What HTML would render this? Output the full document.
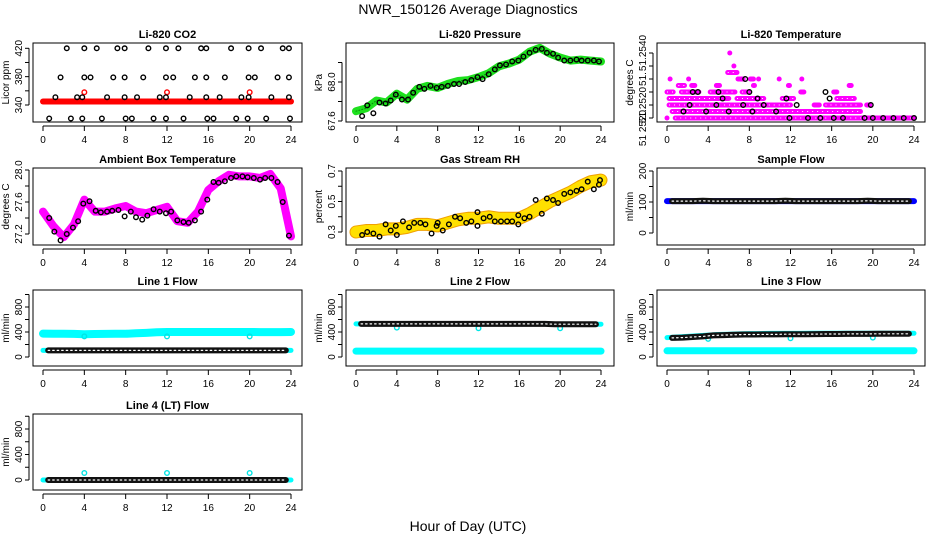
<!DOCTYPE html>
<html><head><meta charset="utf-8">
<style>
html,body{margin:0;padding:0;background:#fff;}
svg{display:block;font-family:"Liberation Sans",sans-serif;}
</style></head>
<body>
<svg id="c" width="936" height="540" viewBox="0 0 936 540" xmlns="http://www.w3.org/2000/svg">
<text x="468" y="14" text-anchor="middle" font-size="14">NWR_150126  Average Diagnostics</text>
<text x="468" y="531" text-anchor="middle" font-size="14">Hour of Day (UTC)</text>
</svg>
<script>
// ---- data ----
const xTicks = [0,4,8,12,16,20,24];
const hours = [0,1,2,3,4,5,6,7,8,9,10,11,12,13,14,15,16,17,18,19,20,21,22,23,24];

// CO2
const co2Red = [345,345,345,345,345,345,345,345,345,345,345,345,345,345,345,345,345,345,345,345,345,345,345,345,345];
const co2RedOutH = [4,12,20];
const co2RedOutV = [358,358,358];
const co2BlackH = [2.3,4.0,5.2,7.2,7.9,10.2,11.9,13.1,15.3,15.8,18.2,19.9,21.1,23.2,23.8,
  1.7,4.0,4.6,6.8,7.9,9.7,11.9,12.6,14.7,15.8,17.6,19.9,20.5,22.7,23.8,
  1.2,3.3,3.8,6.2,7.9,9.1,11.3,11.9,14.2,15.8,17.1,19.2,19.9,22.1,23.8,
  0.6,2.7,3.8,5.7,8.0,8.6,10.7,11.9,13.6,15.9,16.5,18.7,19.8,21.6,23.9];
const co2BlackV = [420,420,420,420,420,420,420,420,420,420,420,420,420,420,420,
  379,379,379,379,379,379,379,379,379,379,379,379,379,379,379,
  351,351,351,351,351,351,351,351,351,351,351,351,351,351,351,
  321,321,321,321,321,321,321,321,321,321,321,321,321,321,321];

// Pressure
const presGreen = [67.70,67.73,67.81,67.79,67.88,67.82,67.93,67.96,67.94,67.98,68.01,68.02,68.05,68.09,68.16,68.19,68.23,68.31,68.35,68.29,68.25,68.22,68.23,68.22,68.21];
const presBlackH = [0.6,1.1,1.7,2.3,2.9,3.4,3.9,4.5,5.1,5.6,6.2,6.7,7.3,7.9,8.4,9.0,9.6,10.1,10.7,11.3,11.9,12.4,13.0,13.6,14.1,14.7,15.3,15.9,16.4,17.0,17.6,18.2,18.7,19.3,19.8,20.4,21.0,21.6,22.1,22.7,23.3,23.8];
const presBlackV = [67.65,67.76,67.68,67.79,67.78,67.81,67.87,67.82,67.82,67.89,67.95,67.93,67.96,67.94,67.95,67.96,67.98,67.98,68.00,68.02,68.05,68.03,68.08,68.13,68.17,68.18,68.21,68.22,68.26,68.30,68.33,68.34,68.30,68.29,68.25,68.22,68.22,68.23,68.22,68.22,68.22,68.21];

// Li-820 temperature (level index)
const tempSegStart = [0.8,0.5,0.2,9.4,15.4,0.2,6.8,11.2,16.5,0.0,1.4,2.6,4.2,5.3,7.3,13.0,16.2,1.1,2.4,4.8,8.4,11.8,17.7,0.3,2.1,6.9,8.1,8.9,10.9,13.1,5.9,6.5,6.1,0.0,14.3,19.4];
const tempSegEnd   = [24.0,18.8,9.1,12.0,18.8,6.0,9.4,12.3,18.2,0.6,2.2,3.1,5.5,6.6,7.9,13.3,16.5,1.7,2.7,5.1,8.5,11.9,17.9,0.3,2.1,7.4,8.4,8.9,10.9,13.1,6.8,6.5,6.1,0.0,14.8,19.7];
const tempSegLevel = [0,1,2,2,2,3,3,3,3,4,4,4,4,4,4,4,4,5,5,5,5,5,5,6,6,6,6,6,6,6,7,8,10,0,2,2];
const tempBlackH = [1.6,2.2,3.8,4.8,6.0,7.4,8.3,9.4,10.6,11.9,13.7,14.9,16.2,17.1,19.2,20.0,21.0,22.0,23.0,24.0,3.0,5.4,8.8,12.6,15.8,19.8,2.5,5.0,8.0,11.6,15.4,7.6];
const tempBlackV = [1,2,1,2,1,2,1,2,1,0,0,0,0,0,0,0,0,0,0,0,4,3,3,2,3,2,4,4,4,3,4,6];

// Ambient box temperature
const ambBand = [27.48,27.30,27.16,27.32,27.63,27.48,27.48,27.52,27.55,27.48,27.46,27.50,27.54,27.36,27.34,27.48,27.75,27.86,27.94,27.92,27.92,27.90,27.95,27.77,27.17];
const ambBlackH = [0.6,1.1,1.7,2.3,2.9,3.4,3.9,4.5,5.1,5.6,6.2,6.7,7.3,7.9,8.5,9.0,9.6,10.1,10.7,11.3,11.9,12.4,13.0,13.6,14.1,14.7,15.3,15.9,16.5,17.0,17.6,18.2,18.7,19.3,19.8,20.4,21.0,21.5,22.1,22.7,23.2,23.8];
const ambBlackV = [27.40,27.23,27.12,27.20,27.28,27.36,27.58,27.61,27.49,27.47,27.48,27.49,27.50,27.42,27.48,27.41,27.38,27.43,27.51,27.48,27.46,27.48,27.37,27.35,27.34,27.37,27.48,27.63,27.85,27.84,27.86,27.90,27.92,27.92,27.91,27.90,27.88,27.90,27.90,27.85,27.60,27.18];

// Gas stream RH
const rhBand = [0.30,0.31,0.31,0.32,0.32,0.33,0.35,0.35,0.34,0.36,0.38,0.39,0.39,0.40,0.39,0.39,0.39,0.42,0.46,0.50,0.53,0.56,0.60,0.63,0.64];
const rhBlackH = [0.6,1.1,1.7,2.3,2.9,3.4,3.9,4.0,4.6,5.2,5.7,6.3,6.8,7.4,7.9,8.0,8.5,9.1,9.7,10.2,10.8,11.3,11.9,11.9,12.5,13.1,13.6,14.2,14.8,15.3,15.9,15.9,16.5,17.0,17.6,18.2,18.7,19.3,19.8,20.4,21.0,21.6,22.1,22.7,23.3,23.8,23.9];
const rhBlackV = [0.28,0.30,0.29,0.27,0.35,0.31,0.34,0.28,0.37,0.33,0.36,0.36,0.35,0.29,0.34,0.36,0.31,0.35,0.40,0.39,0.36,0.37,0.43,0.34,0.39,0.40,0.37,0.37,0.37,0.37,0.41,0.35,0.39,0.40,0.51,0.42,0.52,0.51,0.49,0.55,0.56,0.57,0.58,0.63,0.58,0.61,0.64];

// Sample flow
const sampleBlue = [103,103,103,103,103,103,103,103,103,103,103,103,103,103,103,103,103,103,103,103,103,103,103,103,103];
const sampleBlack = [103,103,103,103,104,103,103,103,103,103,103,103,104,103,103,103,103,103,103,103,104,103,103,103,103];

// Flows
const line1Cyan = [375,372,372,370,365,368,370,372,372,380,385,395,400,400,400,400,400,400,400,400,400,398,398,398,400];
const line1Black = [105,105,105,105,105,105,105,105,105,105,105,105,105,105,105,105,105,105,105,105,105,105,105,105,105];
const line1OutH = [4,12,20]; const line1OutV = [330,330,330];
const line2Black = [530,530,530,530,530,530,530,530,530,530,530,530,530,530,530,530,530,530,530,530,525,525,525,525,525];
const line2Cyan = [95,95,95,95,95,95,95,95,95,95,95,95,95,95,95,95,95,95,95,95,95,95,95,95,95];
const line2OutH = [4,12,20]; const line2OutV = [470,460,460];
const line3Black = [300,305,310,320,330,345,350,355,360,360,362,362,365,365,365,367,368,368,370,370,370,372,372,372,372];
const line3Cyan = [100,100,100,100,100,100,100,100,100,100,100,100,100,100,100,100,100,100,100,100,100,100,100,100,100];
const line3CyanHi = [310,320,330,340,350,360,365,370,375,375,378,378,378,378,380,380,380,380,380,380,380,380,380,380,380];
const line3OutH = [4,12,20]; const line3OutV = [290,300,310];
const line4Black = [0,0,0,0,0,0,0,0,0,0,0,0,0,0,0,0,0,0,0,0,0,0,0,0,0];
const line4OutH = [4,12,20]; const line4OutV = [110,110,110];

// ---- drawing ----
const NS = "http://www.w3.org/2000/svg";
const svg = document.getElementById('c');
const cols = [{bl:33,br:302,x0:43,x1:291},{bl:346,br:614,x0:356,x1:601},{bl:657,br:925,x0:667,x1:914}];
const rows = [{bt:43,bb:122},{bt:168,bb:245},{bt:290,bb:366},{bt:414,bb:490}];

function el(tag, attrs, parent){
  const e = document.createElementNS(NS, tag);
  for (const k in attrs) e.setAttribute(k, attrs[k]);
  (parent||svg).appendChild(e);
  return e;
}

function makePanel(ci, ri, title, ylab, v1, y1, v2, y2, yTicks, yLabels, name){
  const c = cols[ci], r = rows[ri];
  const g = el('g', {});
  
  
  const xs = h => c.x0 + (h/24)*(c.x1-c.x0);
  const ys = v => y1 + (v-v1)*(y2-y1)/(v2-v1);
  const box = el('rect', {x:c.bl, y:r.bt, width:c.br-c.bl, height:r.bb-r.bt, fill:'none', stroke:'#000', 'stroke-width':1}, g);
  
  
  const t = el('text', {x:(c.bl+c.br)/2, y:r.bt-5, 'text-anchor':'middle', 'font-size':11, 'font-weight':'bold'}, g);
  t.textContent = title;
  
  
  const ax = el('line', {x1:xs(0), x2:xs(24), y1:r.bb+4, y2:r.bb+4, stroke:'#000'}, g);
  
  
  xTicks.forEach(h => {
    el('line', {x1:xs(h), x2:xs(h), y1:r.bb+4, y2:r.bb+9, stroke:'#000'}, g);
    const tl = el('text', {x:xs(h), y:r.bb+21, 'text-anchor':'middle', 'font-size':10}, g);
    tl.textContent = h;
    
    
  });
  const yA = el('line', {x1:c.bl-4, x2:c.bl-4, y1:ys(yTicks[0]), y2:ys(yTicks[yTicks.length-1]), stroke:'#000'}, g);
  
  
  yTicks.forEach((v,i) => {
    const y = ys(v);
    el('line', {x1:c.bl-8, x2:c.bl-4, y1:y, y2:y, stroke:'#000'}, g);
    if (yLabels[i]) {
      const tl = el('text', {x:0, y:0, 'text-anchor':'middle', 'font-size':10, transform:`translate(${c.bl-11},${y}) rotate(-90)`}, g);
      tl.textContent = yLabels[i];
      
      
    }
  });
  const yl = el('text', {x:0, y:0, 'text-anchor':'middle', 'font-size':10, transform:`translate(${c.bl-24},${(r.bt+r.bb)/2}) rotate(-90)`}, g);
  yl.textContent = ylab;
  
  
  const clipId = 'clip' + ci + ri;
  const cp = el('clipPath', {id:clipId}, g);
  el('rect', {x:c.bl, y:r.bt-6, width:c.br-c.bl, height:r.bb-r.bt+6}, cp);
  const plot = el('g', {'clip-path':`url(#${clipId})`}, g);
  return {xs, ys, g:plot, outer:g, name};
}

function band(p, hs, vs, color, w, nm){
  const pts = hs.map((h,i) => p.xs(h).toFixed(1)+','+p.ys(vs[i]).toFixed(1)).join(' ');
  const pl = el('polyline', {points:pts, fill:'none', stroke:color, 'stroke-width':w, 'stroke-linejoin':'round', 'stroke-linecap':'round'}, p.g);
  
  
  return pl;
}
function pts(p, hs, vs, color, nm, r){
  hs.forEach((h,i) => {
    const c = el('circle', {cx:p.xs(h), cy:p.ys(vs[i]), r:r||2.3, fill:'none', stroke:color, 'stroke-width':1.4}, p.g);
    
    
  });
}
function chain(p, hs, vs, nm){
  band(p, hs, vs, '#111', 6, nm);
  const pl = band(p, hs, vs, '#fff', 1.2, nm + '-inner');
  pl.setAttribute('stroke-dasharray', '1.5 3');
}

// CO2
let p = makePanel(0,0,'Li-820 CO2','Licor ppm',340,105,420,48.3,[340,360,380,400,420],['340','','380','','420'],'co2');
band(p, hours, co2Red, '#f00', 6, 'co2-red-series');
pts(p, co2RedOutH, co2RedOutV, '#f00', 'co2-red-outlier');
pts(p, co2BlackH, co2BlackV, '#000', 'co2-black-point');

// Pressure
p = makePanel(1,0,'Li-820 Pressure','kPa',67.6,121,68.0,82,[67.6,67.8,68.0,68.2],['67.6','','68.0',''],'pressure');
band(p, hours, presGreen, '#1ee01e', 8, 'pressure-green-series');
const gi = band(p, hours, presGreen, '#0a8a0a', 1, 'pressure-green-texture'); gi.setAttribute('stroke-dasharray','1 2');
pts(p, presBlackH, presBlackV, '#000', 'pressure-black-point');

// Li-820 temperature
p = makePanel(2,0,'Li-820 Temperature','degrees C',0,118,10,53,[0,2,4,6,8,10],['','51.2520','','51.','','51.2540'],'li820-temp');
const extra = el('text', {x:0, y:0, 'text-anchor':'middle', 'font-size':10, transform:'translate(646,128) rotate(-90)'}, p.outer);
extra.textContent = '51 2520';


tempSegStart.forEach((s,i) => {
  const lv = tempSegLevel[i];
  const x1 = p.xs(s), x2 = p.xs(tempSegEnd[i]), y = p.ys(lv);
  const ln = el('line', {x1:x1, x2:x2, y1:y, y2:y, stroke:'#ff00ff', 'stroke-width':5, 'stroke-linecap':'round'}, p.g);
  
  
  if (x2 - x1 > 6) {
    const inn = el('line', {x1:x1, x2:x2, y1:y, y2:y, stroke:'#fff', 'stroke-width':1, 'stroke-dasharray':'1 4'}, p.g);
    
    
  }
});
pts(p, tempBlackH, tempBlackV, '#000', 'li820-temp-black-point');

// Ambient
p = makePanel(0,1,'Ambient Box Temperature','degrees C',27.2,234,28.0,170,[27.2,27.4,27.6,27.8,28.0],['27.2','','27.6','','28.0'],'ambient');
band(p, hours, ambBand, '#ff00ff', 8, 'ambient-magenta-series');
pts(p, ambBlackH, ambBlackV, '#000', 'ambient-black-point');

// RH
p = makePanel(1,1,'Gas Stream RH','percent',0.3,232,0.7,171,[0.3,0.4,0.5,0.6,0.7],['0.3','','0.5','','0.7'],'rh');
band(p, hours, rhBand, '#f0a000', 13, 'rh-orange-series');
const yb = band(p, hours, rhBand, '#ffe000', 11, 'rh-yellow-texture'); yb.setAttribute('stroke-dasharray','2 2');
pts(p, rhBlackH, rhBlackV, '#000', 'rh-black-point');

// Sample flow
p = makePanel(2,1,'Sample Flow','ml/min',0,233,200,171,[0,50,100,150,200],['0','','100','','200'],'sample-flow');
band(p, hours, sampleBlue, '#0000ff', 6, 'sample-flow-blue-series');
chain(p, hours.slice(1).map(h=>h-0.5).concat([24]), sampleBlack.slice(1), 'sample-flow-black-series');

const flowTicks = [0,200,400,600,800,1000], flowLabels = ['0','','400','','800',''];
// Line 1
p = makePanel(0,2,'Line 1 Flow','ml/min',0,357,800,307,flowTicks,flowLabels,'line1-flow');
band(p, hours, line1Cyan, '#00ffff', 8, 'line1-cyan-series');
band(p, hours, line1Black, '#00ffff', 5, 'line1-cyan-low');
chain(p, hours.slice(1).map(h=>h-0.5).concat([24]), line1Black.slice(1), 'line1-black-series');
pts(p, line1OutH, line1OutV, '#00e5e5', 'line1-cyan-outlier');

// Line 2
p = makePanel(1,2,'Line 2 Flow','ml/min',0,357,800,307,flowTicks,flowLabels,'line2-flow');
band(p, hours, line2Cyan, '#00ffff', 7, 'line2-cyan-series');
band(p, hours, line2Black, '#00ffff', 5, 'line2-cyan-hi');
pts(p, line2OutH, line2OutV, '#00e5e5', 'line2-cyan-outlier');
chain(p, hours.slice(1).map(h=>h-0.5).concat([24]), line2Black.slice(1), 'line2-black-series');

// Line 3
p = makePanel(2,2,'Line 3 Flow','ml/min',0,357,800,307,flowTicks,flowLabels,'line3-flow');
band(p, hours, line3Cyan, '#00ffff', 7, 'line3-cyan-series');
band(p, hours, line3CyanHi, '#00ffff', 5, 'line3-cyan-hi');
pts(p, line3OutH, line3OutV, '#00e5e5', 'line3-cyan-outlier');
chain(p, hours.slice(1).map(h=>h-0.5).concat([24]), line3Black.slice(1), 'line3-black-series');

// Line 4
p = makePanel(0,3,'Line 4 (LT) Flow','ml/min',0,480,800,429,flowTicks,flowLabels,'line4-flow');
band(p, hours, line4Black, '#00ffff', 5, 'line4-cyan-series');
pts(p, line4OutH, line4OutV, '#00e5e5', 'line4-cyan-outlier');
chain(p, hours.slice(1).map(h=>h-0.5).concat([24]), line4Black.slice(1), 'line4-black-series');
</script>
</body></html>
